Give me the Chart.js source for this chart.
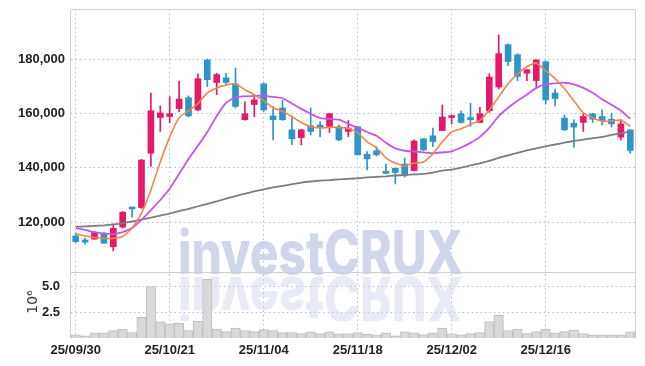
<!DOCTYPE html>
<html>
<head>
<meta charset="utf-8">
<script src="https://cdn.jsdelivr.net/npm/chart.js@4.4.1/dist/chart.umd.min.js"></script>
<style>
  html, body { margin: 0; padding: 0; background: #fff; }
</style>
</head>
<body>
<canvas id="chart" width="645" height="366"></canvas>
<script>
// trading days (yy/mm/dd)
const dates = [
  '25/09/30','25/10/01','25/10/02','25/10/10','25/10/13','25/10/14','25/10/15','25/10/16','25/10/17','25/10/20',
  '25/10/21','25/10/22','25/10/23','25/10/24','25/10/27','25/10/28','25/10/29','25/10/30','25/10/31','25/11/03',
  '25/11/04','25/11/05','25/11/06','25/11/07','25/11/10','25/11/11','25/11/12','25/11/13','25/11/14','25/11/17',
  '25/11/18','25/11/19','25/11/20','25/11/21','25/11/24','25/11/25','25/11/26','25/11/27','25/11/28','25/12/01',
  '25/12/02','25/12/03','25/12/04','25/12/05','25/12/08','25/12/09','25/12/10','25/12/11','25/12/12','25/12/15',
  '25/12/16','25/12/17','25/12/18','25/12/19','25/12/22','25/12/23','25/12/24','25/12/26','25/12/29','25/12/30'
];

const openP = [
  115000,113500,113800,115700,111000,118200,125300,125400,145400,158500,
  158900,161800,165800,161300,179700,171400,173100,170900,157700,163300,
  170900,159100,162000,154000,151100,155500,155500,155200,155100,153400,
  155100,145000,146300,138600,139900,141400,139000,150700,151800,153700,
  158500,159900,158500,156700,161000,169700,185300,181600,174800,172100,
  179000,167500,158300,156400,156700,159900,158900,157900,151300,154000
];
const highP = [
  116100,114100,116600,116200,119300,124000,125500,143100,167500,162800,
  166200,171800,166500,174600,180000,174800,174800,176700,164400,166100,
  171200,162600,164800,159100,154200,162000,157000,160100,155800,157400,
  155300,146000,147800,141400,139900,143600,150300,150800,154600,163100,
  159500,161000,163800,162300,174600,188900,185600,182000,176100,179800,
  179400,169000,159500,157700,159900,160100,161300,160100,157700,154000
];
const lowP = [
  112600,112000,113700,112300,109500,117900,121900,125100,140500,153400,
  156600,160700,158700,161000,169900,166900,170500,162000,157500,158800,
  160700,150300,157500,148500,148500,152100,151500,153000,150000,151500,
  144700,139300,144400,137800,134100,136600,138900,146400,147800,153700,
  156100,156400,155200,156700,160400,169000,177600,172100,172100,169900,
  163500,162800,153700,147600,153400,156700,155800,155000,150300,145400
];
const closeP = [
  112900,112700,116300,112300,117800,123700,124900,142900,161000,160200,
  159900,165300,159100,172800,172400,174300,171400,162600,159900,165000,
  161300,157700,157700,150700,154000,153400,155000,159900,150300,154600,
  144800,143300,144800,138000,138300,137100,149900,146600,149700,158700,
  159100,156700,157700,159900,173400,182000,179100,173600,176100,179700,
  165000,165500,154000,155000,158900,157900,157400,156200,156200,146400
];

// moving averages as drawn
const ma5 = [
  115700,115000,114400,114100,114100,114800,117900,123400,131900,142200,
  151400,158400,161000,163600,167600,169400,170500,170900,168700,166900,
  164700,162100,160800,158800,156700,155100,154700,154900,154900,154500,
  152900,149600,147400,143700,141800,140700,141800,142200,145200,149600,
  153200,154400,156000,157500,161300,166100,170900,174600,177200,178500,
  175700,172800,169100,164700,160200,158400,157100,157300,157500,155300
];
const ma20 = [
  117900,117200,116400,115900,115700,116400,117900,120900,124500,128200,
  132300,137800,143300,148100,153200,159100,163900,166000,166300,166500,
  166500,166100,165600,163700,161700,159900,158300,158000,157700,156200,
  154700,153200,151800,149200,147200,146300,146000,145700,145400,145700,
  146100,147500,149200,151400,154700,159000,162100,164700,166900,169400,
  170700,171100,171300,170700,169400,167600,165200,163200,161000,158000
];
const ma60 = [
  118400,118500,118700,118900,119200,119600,120300,121000,121700,122500,
  123200,124100,124900,125900,126800,127700,128700,129600,130500,131400,
  132100,132800,133400,134000,134600,135000,135300,135500,135800,136000,
  136200,136500,136700,136900,137200,137400,137600,137800,138300,139000,
  139400,140100,140900,141700,142600,143700,144600,145500,146400,147200,
  147900,148600,149300,149900,150400,150900,151400,152100,152700,153400
];

// volume, millions of shares
const volumeM = [
  0.30,0.20,0.50,0.50,0.71,0.87,0.52,2.00,5.00,1.57,
  1.38,1.44,0.71,1.63,5.72,0.87,0.62,0.97,0.71,0.62,
  0.81,0.71,0.52,0.52,0.43,0.59,0.43,0.59,0.40,0.40,
  0.52,0.36,0.30,0.49,0.21,0.59,0.49,0.33,0.49,0.97,
  0.40,0.30,0.43,0.52,1.60,2.20,0.71,0.87,0.43,0.62,
  0.87,0.49,0.62,0.78,0.43,0.30,0.30,0.30,0.30,0.59
];

const priceTicks = [120000, 140000, 160000, 180000];
const volumeTicks = [2.5, 5.0];

const UP = '#e5196a';
const DOWN = '#2f95c9';
const tickFont = { family: "'Liberation Sans', Arial, sans-serif", size: 13, weight: 'bold' };
const gridColor = 'rgba(170,178,210,0.85)';

const candleColor = openP.map((o, i) => closeP[i] >= o ? UP : DOWN);

const watermark = {
  id: 'watermark',
  beforeDatasetsDraw(chart) {
    const ctx = chart.ctx;
    const text = 'investCRUX';
    const font = "800 60px Inter, 'Liberation Sans', sans-serif";
    ctx.save();
    ctx.font = font;
    const sx = 285 / ctx.measureText(text).width;
    ctx.textBaseline = 'alphabetic';
    ctx.fillStyle = 'rgba(196,204,230,0.78)';
    ctx.translate(178, 274);
    ctx.scale(sx, 1);
    ctx.fillText(text, 0, 0);
    ctx.restore();

    ctx.save();
    ctx.beginPath();
    ctx.rect(0, 273, 645, 48);
    ctx.clip();
    ctx.font = font;
    ctx.fillStyle = 'rgba(200,206,230,0.42)';
    ctx.translate(178, 277);
    ctx.scale(sx, -1);
    ctx.fillText(text, 0, 0);
    ctx.restore();
  }
};

const frame = {
  id: 'frame',
  afterDraw(chart) {
    const ctx = chart.ctx;
    const a = chart.chartArea;
    const div = chart.scales.y.bottom;
    ctx.save();
    ctx.strokeStyle = '#cfcfcf';
    ctx.lineWidth = 1;
    ctx.beginPath();
    ctx.moveTo(a.left - 0.5, a.bottom);
    ctx.lineTo(a.left - 0.5, a.top + 0.5);
    ctx.lineTo(a.right + 0.5, a.top + 0.5);
    ctx.lineTo(a.right + 0.5, a.bottom);
    ctx.moveTo(a.left, Math.round(div) + 0.5);
    ctx.lineTo(a.right, Math.round(div) + 0.5);
    ctx.stroke();
    ctx.translate(33, 302);
    ctx.rotate(-Math.PI / 2);
    ctx.fillStyle = '#333';
    ctx.font = "14px 'DejaVu Sans', sans-serif";
    ctx.textAlign = 'center';
    ctx.textBaseline = 'middle';
    ctx.fillText('10\u2076', 0, 0);
    ctx.restore();
  }
};

const noPad = (s) => { s.paddingTop = 0; s.paddingBottom = 0; };

new Chart(document.getElementById('chart'), {
  type: 'bar',
  data: {
    labels: dates,
    datasets: [
      {
        type: 'line', label: 'MA5', data: ma5, yAxisID: 'y', order: 0,
        borderColor: '#f0854a', borderWidth: 1.6, pointRadius: 0, tension: 0.2
      },
      {
        type: 'line', label: 'MA20', data: ma20, yAxisID: 'y', order: 0,
        borderColor: '#c455ea', borderWidth: 1.8, pointRadius: 0, tension: 0.2
      },
      {
        type: 'line', label: 'MA60', data: ma60, yAxisID: 'y', order: 0,
        borderColor: '#7d7d7d', borderWidth: 1.8, pointRadius: 0, tension: 0.2
      },
      {
        label: 'wick', yAxisID: 'y', order: 1, grouped: false,
        data: dates.map((d, i) => [lowP[i], highP[i]]),
        backgroundColor: candleColor, barThickness: 1
      },
      {
        label: 'body', yAxisID: 'y', order: 1, grouped: false,
        data: dates.map((d, i) => [openP[i], closeP[i]]),
        backgroundColor: candleColor, barThickness: 6, minBarLength: 2
      },
      {
        label: 'volume', yAxisID: 'yv', order: 2, grouped: false,
        data: volumeM,
        backgroundColor: '#d9d9d9', borderColor: '#bdbdbd', borderWidth: 1,
        barPercentage: 1, categoryPercentage: 1
      }
    ]
  },
  options: {
    responsive: false,
    animation: false,
    layout: { padding: { top: 9, right: 10, left: 0, bottom: 0 } },
    plugins: { legend: { display: false }, tooltip: { enabled: false } },
    scales: {
      x: {
        type: 'category',
        offset: true,
        grid: {
          offset: false, drawTicks: false,
          color: (c) => c.index % 10 === 0 ? gridColor : 'rgba(0,0,0,0)'
        },
        border: { display: false, dash: [1.5, 3] },
        ticks: {
          autoSkip: false, maxRotation: 0, padding: 5,
          color: '#222', font: tickFont,
          callback: (v, i) => i % 10 === 0 ? dates[i] : ''
        },
        afterFit: (s) => { s.height = 28; s.paddingLeft = 0; s.paddingRight = 0; }
      },
      y: {
        position: 'left', stack: 'panes', stackWeight: 263.5, weight: 1,
        min: 101700, max: 198400,
        grid: { color: gridColor, drawTicks: false },
        border: { display: false, dash: [1.5, 3] },
        ticks: {
          padding: 6, color: '#222', font: tickFont,
          callback: (v) => v.toLocaleString('en-US')
        },
        afterBuildTicks: (s) => { s.ticks = priceTicks.map(v => ({ value: v })); },
        afterFit: (s) => { s.width = 71; noPad(s); }
      },
      yv: {
        position: 'left', stack: 'panes', stackWeight: 66, weight: 0,
        min: 0, max: 6.4,
        grid: { color: gridColor, drawTicks: false },
        border: { display: false, dash: [1.5, 3] },
        ticks: {
          padding: 11, color: '#222', font: tickFont,
          callback: (v) => v.toFixed(1)
        },
        afterBuildTicks: (s) => { s.ticks = volumeTicks.map(v => ({ value: v })); },
        afterFit: (s) => { s.width = 71; noPad(s); }
      }
    }
  },
  plugins: [watermark, frame]
});
</script>
</body>
</html>
